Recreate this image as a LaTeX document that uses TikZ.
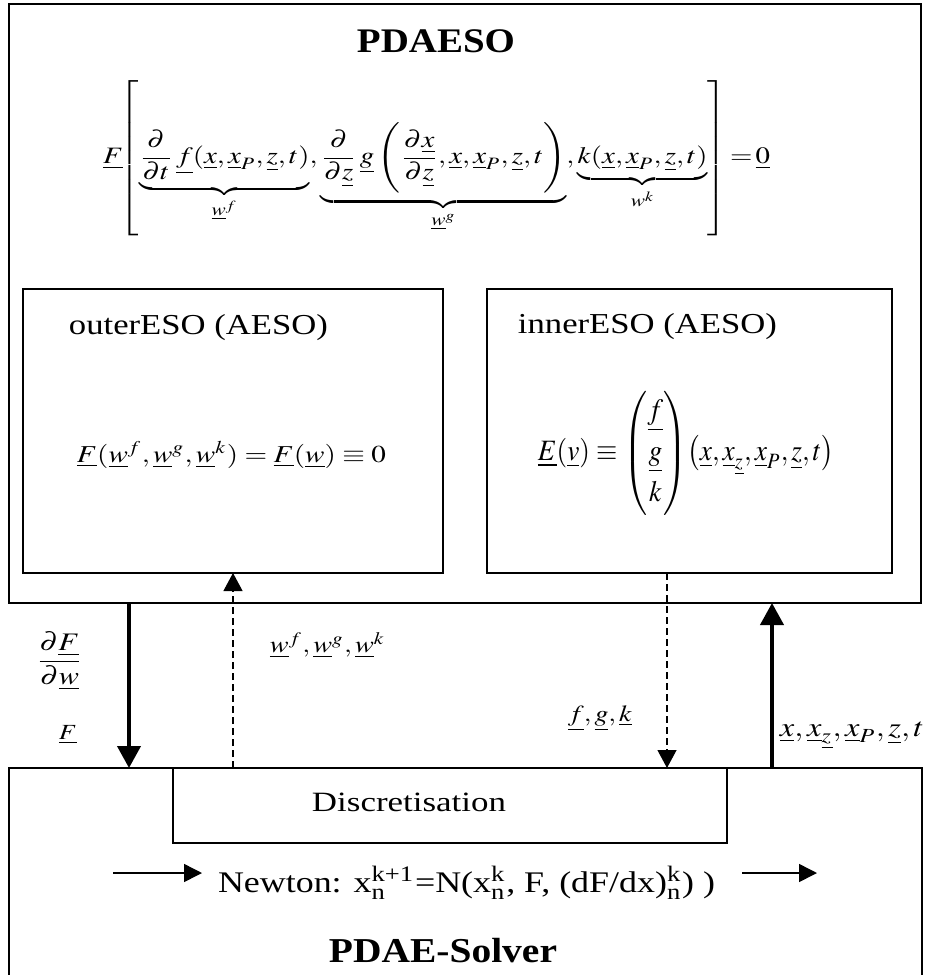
\documentclass[tikz,border=0pt]{standalone}
\usepackage{amsmath}
\usepackage{mathptmx}
\usepackage{fontspec}
\setmainfont{Liberation Serif}
\usepackage{graphicx}
\usetikzlibrary{arrows.meta}
\newcommand{\ul}[1]{\underline{#1}}
\newcommand{\fitw}[3][1.2]{\resizebox{#2}{!}{\scalebox{#1}[1]{#3}}}
\tikzset{
  box/.style={draw, line width=1.6pt, rectangle, inner sep=0pt, outer sep=0pt, anchor=north west},
  discbox/.style={draw, line width=1.3pt, rectangle, inner sep=0pt, outer sep=0pt, anchor=north west, fill=white},
  txt/.style={inner sep=0pt, outer sep=0pt},
  thickarrow/.style={line width=4pt, -{Triangle[length=22pt,width=23pt]}},
  dasharrow/.style={line width=1.2pt, dash pattern=on 7pt off 4pt, -{Triangle[length=18pt,width=19pt]}},
  thinarrow/.style={line width=1.5pt, -{Triangle[length=18pt,width=18pt]}}
}
\begin{document}
\begin{tikzpicture}[x=1pt,y=-1pt]
\useasboundingbox (0,0) rectangle (926,975);
\clip (0,0) rectangle (926,975);
\fill[white] (0,0) rectangle (926,975);
% boxes
\node[box, minimum width=912pt, minimum height=599pt] (pdaeso) at (8.7,4) {};
\node[box, minimum width=420pt, minimum height=284pt] (outer) at (23,289) {};
\node[box, minimum width=405pt, minimum height=284pt] (inner) at (487,289) {};
\node[box, minimum width=913.3pt, minimum height=260pt] (solver) at (8.7,768) {};
\node[discbox, minimum width=554pt, minimum height=75pt] (disc) at (173,768) {};
% titles
\node[txt, anchor=base] (tpdaeso) at (436,52) {\fitw[1.13]{158pt}{\bfseries PDAESO}};
\node[txt, anchor=base] (touter) at (198.5,334) {\fitw{259pt}{outerESO (AESO)}};
\node[txt, anchor=base] (tinner) at (647.5,333) {\fitw{259pt}{innerESO (AESO)}};
% main equation
\node[txt, anchor=west] (eqmain) at (103,158) {\resizebox*{667pt}{155pt}{$\displaystyle
 \delimiterfactor=1000 \delimitershortfall=0pt
 \ul{F}\!\!\left[\vrule height 2.68em depth 2.18em width 0pt
 \underbrace{\frac{\partial}{\partial t}\,\ul{f}(\ul{x},\ul{x}_P,\ul{z},t)}_{\ul{w}^f},
 \underbrace{\frac{\partial}{\partial \ul{z}}\,\ul{g}\left(\frac{\partial \ul{x}}{\partial \ul{z}},\ul{x},\ul{x}_P,\ul{z},t\right)}_{\ul{w}^g},
 \underbrace{k(\ul{x},\ul{x}_P,\ul{z},t)}_{w^k}
 \right]\!=\!\ul{0}$}};
% outer equation
\node[txt] (eqouter) at (231.5,455) {\fitw{309pt}{$\ul{F}(\ul{w}^f,\ul{w}^g,\ul{w}^k)=\ul{F}(\ul{w})\equiv 0$}};
% inner equation
\node[txt] (eqinner) at (686,453.5) {\resizebox*{296pt}{124pt}{$\ul{E}(\ul{v})\equiv\begin{pmatrix}\ul{f}\\[2pt] \ul{g}\\[2pt] k\end{pmatrix}\!\bigl(\ul{x},\ul{x}_{\ul{z}},\ul{x}_P,\ul{z},t\bigr)$}};
% connectors
\coordinate (cA) at (129,0);
\coordinate (cB) at (233,0);
\coordinate (cC) at (667,0);
\coordinate (cD) at (772,0);
\draw[thickarrow] (cA |- pdaeso.south) -- (cA |- solver.north);
\draw[dasharrow] (cB |- solver.north) -- (cB |- outer.south);
\draw[dasharrow] (cC |- inner.south) -- (cC |- solver.north);
\draw[thickarrow] (cD |- solver.north) -- (cD |- pdaeso.south);
% connector labels
\node[txt] (ldfdw) at (59.5,661) {\fitw{47pt}{$\dfrac{\partial\ul{F}}{\partial\ul{w}}$}};
\node[txt] (lF) at (68,735) {\fitw{18pt}{$\ul{F}$}};
\node[txt] (lw) at (327.5,645) {\fitw{115pt}{$\ul{w}^f,\ul{w}^g,\ul{w}^k$}};
\node[txt] (lfgk) at (600,718) {\fitw{64pt}{$\ul{f},\ul{g},\ul{k}$}};
\node[txt] (lx) at (852,735) {\fitw{144pt}{$\ul{x},\ul{x}_{\ul{z}},\ul{x}_P,\ul{z},t$}};
% solver contents
\node[txt, anchor=base] (tdisc) at (409,811) {\fitw[1.25]{194pt}{Discretisation}};
\node[txt, anchor=base west] (newton) at (218,892) {\fitw{497pt}{Newton: x$_{\text{n}}^{\text{k+1}}$=N(x$_{\text{n}}^{\text{k}}$, F, (dF/dx)$_{\text{n}}^{\text{k}}$) )}};
\coordinate (nl) at (113,873);
\coordinate (nr) at (817,873);
\draw[thinarrow, shorten >=16pt] (nl) -- (nl -| newton.west);
\draw[thinarrow, shorten <=27pt] (nr -| newton.east) -- (nr);
\node[txt, anchor=base] (tsolver) at (443,962) {\fitw[1.13]{228pt}{\bfseries PDAE-Solver}};
\end{tikzpicture}
\end{document}
